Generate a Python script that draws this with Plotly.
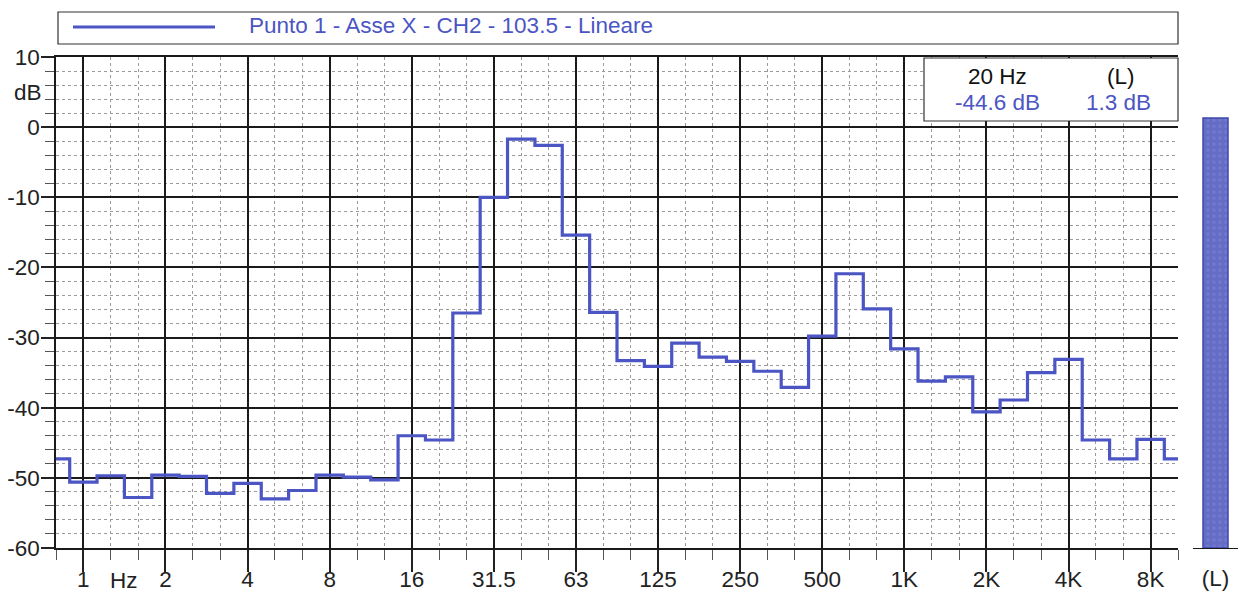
import plotly.graph_objects as go

# ---------------- data ----------------
bands = ["0.8", "1", "1.25", "1.6", "2", "2.5", "3.15", "4", "5", "6.3", "8", "10",
         "12.5", "16", "20", "25", "31.5", "40", "50", "63", "80", "100", "125", "160",
         "200", "250", "315", "400", "500", "630", "800", "1K", "1.25K", "1.6K", "2K",
         "2.5K", "3.15K", "4K", "5K", "6.3K", "8K", "10K"]
levels = [-47.3, -50.6, -49.7, -52.8, -49.6, -49.8, -52.2, -50.8, -53.0, -51.8, -49.6, -49.9,
          -50.3, -44.0, -44.6, -26.5, -10.0, -1.7, -2.6, -15.4, -26.4, -33.3, -34.1, -30.8,
          -32.8, -33.4, -34.8, -37.1, -29.8, -20.9, -25.9, -31.6, -36.2, -35.6, -40.6,
          -38.9, -35.0, -33.1, -44.6, -47.3, -44.5, -47.3]
tick_labels = ["1", "2", "4", "8", "16", "31.5", "63", "125", "250", "500", "1K", "2K", "4K", "8K"]
y_ticks = [10, 0, -10, -20, -30, -40, -50, -60]
overall_label = "(L)"
overall_level = 1.3
cursor_band = "20"
series_name = "Punto 1 - Asse X - CH2 - 103.5 - Lineare"

# ---------------- style ----------------
BLUE = "#4b55c3"
FONT = "Liberation Sans, Arial, sans-serif"
FS = 22.5
W, H = 1238, 601
ML, MR, MT, MB = 56, 0, 57, 53
PW = W - ML - MR
PH = H - MT - MB
Y_MIN, Y_MAX = -60, 10


def px(x):
    return (x - ML) / PW


def py(y):
    return (H - MB - y) / PH


idx = list(range(len(bands)))
tickvals = [bands.index(t) for t in tick_labels]
plot_right = 1178

fig = go.Figure()
fig.add_trace(go.Scatter(
    x=idx, y=levels, mode="lines", line=dict(color=BLUE, width=3.2, shape="hvh"),
    name=series_name, showlegend=False, xaxis="x", yaxis="y"))

fig.add_trace(go.Bar(
    x=[0], y=[overall_level - Y_MIN], base=[Y_MIN], width=[25 / 45],
    marker=dict(color="#6b73ca", line=dict(color="#3f47ad", width=1.5),
                pattern=dict(shape=".", fgcolor="#7d85d2", bgcolor="#646cc6", size=6, solidity=0.3)),
    showlegend=False, xaxis="x2", yaxis="y2"))

fig.update_layout(
    width=W, height=H,
    margin=dict(l=ML, r=MR, t=MT, b=MB),
    paper_bgcolor="white", plot_bgcolor="white",
    font=dict(family=FONT, size=FS, color="#222"),
    showlegend=False,
    xaxis=dict(
        domain=[0, px(plot_right)], range=[0, len(bands) - 1], type="linear",
        tickmode="array", tickvals=tickvals, ticktext=tick_labels,
        ticks="outside", ticklen=22, tickwidth=1.5, tickcolor="#222",
        ticklabelstandoff=-12,
        showgrid=True, gridcolor="#1a1a1a", gridwidth=1.5,
        showline=True, linecolor="#1a1a1a", linewidth=1.5, mirror=True,
        zeroline=False, tickfont=dict(size=FS, color="#222"),
        minor=dict(tick0=0, dtick=1, ticks="outside", ticklen=10, tickcolor="#555",
                   tickwidth=1, showgrid=True, gridcolor="#9a9a9a", griddash="dot",
                   gridwidth=1),
    ),
    xaxis2=dict(
        domain=[px(1193), 1.0], range=[-0.5, 0.5], anchor="y2",
        tickmode="array", tickvals=[0], ticktext=[overall_label],
        ticks="", showgrid=False, zeroline=False, ticklabelstandoff=10,
        showline=True, linecolor="#1a1a1a", linewidth=1.2,
        tickfont=dict(size=FS, color="#222"),
    ),
    yaxis=dict(
        range=[Y_MIN, Y_MAX], tickmode="array", tickvals=y_ticks,
        ticktext=[str(v) for v in y_ticks],
        ticks="outside", ticklen=13, tickwidth=1.5, tickcolor="#222",
        ticklabelstandoff=-3,
        showgrid=True, gridcolor="#1a1a1a", gridwidth=1.5,
        showline=True, linecolor="#1a1a1a", linewidth=1.5,
        zeroline=False, tickfont=dict(size=FS, color="#222"),
        minor=dict(tick0=0, dtick=2, ticks="outside", ticklen=9, tickcolor="#555",
                   tickwidth=1, showgrid=True, gridcolor="#9a9a9a", griddash="dot",
                   gridwidth=1),
    ),
    yaxis2=dict(
        range=[Y_MIN, Y_MAX], anchor="x2", showgrid=False, zeroline=False,
        showticklabels=False, ticks="", showline=False,
    ),
)

shapes = []
# legend box
shapes.append(dict(type="rect", xref="paper", yref="paper",
                   x0=px(58), x1=px(plot_right), y0=py(44), y1=py(12),
                   line=dict(color="#333", width=1.2), fillcolor="white", layer="above"))
shapes.append(dict(type="line", xref="paper", yref="paper",
                   x0=px(73), x1=px(215), y0=py(27), y1=py(27),
                   line=dict(color=BLUE, width=3.2), layer="above"))
# info box
shapes.append(dict(type="rect", xref="paper", yref="paper",
                   x0=px(924), x1=px(plot_right), y0=py(121), y1=py(58),
                   line=dict(color="#333", width=1.2), fillcolor="white", layer="above"))
fig.update_layout(shapes=shapes)

cursor_level = levels[bands.index(cursor_band)]
ann = [
    dict(x=px(247), y=py(25), xref="paper", yref="paper", xanchor="left", yanchor="middle",
         text=series_name, showarrow=False, font=dict(color=BLUE, size=FS)),
    dict(x=px(997), y=py(77), xref="paper", yref="paper", xanchor="center", yanchor="middle",
         text=f"{cursor_band} Hz", showarrow=False, font=dict(color="#111", size=FS)),
    dict(x=px(997), y=py(102), xref="paper", yref="paper", xanchor="center", yanchor="middle",
         text=f"{cursor_level:.1f} dB", showarrow=False, font=dict(color=BLUE, size=FS)),
    dict(x=px(1121), y=py(77), xref="paper", yref="paper", xanchor="center", yanchor="middle",
         text=overall_label, showarrow=False, font=dict(color="#111", size=FS)),
    dict(x=px(1118), y=py(102), xref="paper", yref="paper", xanchor="center", yanchor="middle",
         text=f"{overall_level:.1f} dB", showarrow=False, font=dict(color=BLUE, size=FS)),
    # axis unit labels
    dict(x=2.5, y=py(580), xref="x", yref="paper", xanchor="center", yanchor="middle",
         text="Hz", showarrow=False, font=dict(color="#222", size=FS)),
    dict(x=0, y=5, xref="paper", yref="y", xanchor="right", yanchor="middle", xshift=-12,
         text="dB", showarrow=False, font=dict(color="#222", size=FS)),
]
fig.update_layout(annotations=ann)

fig.write_html("out.html", config={"displayModeBar": False},
               post_script="document.body.style.margin='0';")
